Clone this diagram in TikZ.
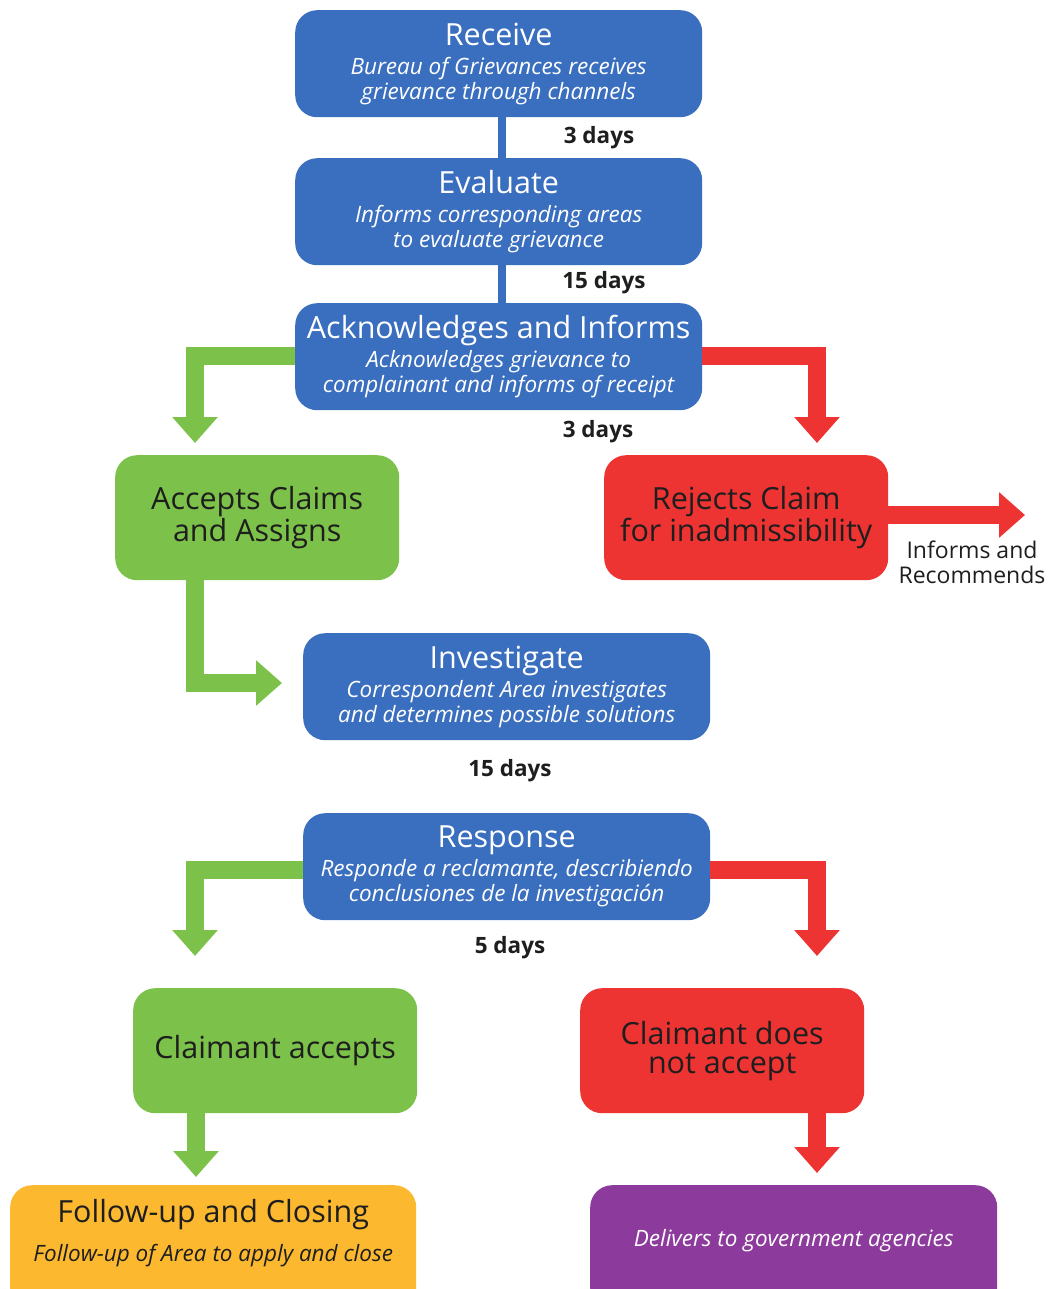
\documentclass[tikz,border=0pt]{standalone}
\usepackage{fontspec}
\setmainfont{Open Sans}
\usetikzlibrary{arrows.meta,calc}
\definecolor{bblue}{HTML}{3A6EBF}
\definecolor{bgreen}{HTML}{7CC24A}
\definecolor{bred}{HTML}{EE3333}
\definecolor{borange}{HTML}{FCB930}
\definecolor{bpurple}{HTML}{8C3A9B}
\definecolor{darktxt}{HTML}{1E1E1E}
\newcommand{\ttlA}{\fontsize{30.5}{25}\selectfont\upshape}
\newcommand{\subA}{\fontsize{22.5}{25}\selectfont\itshape}
\newcommand{\bigB}{\fontsize{30.5}{29}\selectfont}
\tikzset{
  box/.style={rounded corners=22pt, inner sep=0pt, align=center, anchor=north west},
  bluebox/.style={box, fill=bblue, text=white, minimum width=407pt, minimum height=107pt, font=\subA},
  greenbox/.style={box, fill=bgreen, text=darktxt, minimum width=284pt, minimum height=125pt, font=\bigB},
  redbox/.style={box, fill=bred, text=darktxt, minimum width=284pt, minimum height=125pt, font=\bigB},
  days/.style={font=\fontsize{22.5}{24}\selectfont\bfseries, text=darktxt},
  garrow/.style={draw=bgreen, line width=18pt, -{Triangle[width=44pt,length=26pt]}},
  rarrow/.style={draw=bred, line width=18pt, -{Triangle[width=44pt,length=26pt]}},
  bline/.style={draw=bblue, line width=8pt},
}
\begin{document}
\begin{tikzpicture}[x=1pt,y=-1pt]
\useasboundingbox (0,0) rectangle (1055,1289);
% blue boxes
\node[bluebox] (rec) at (295,10) {\ttlA Receive\\[4pt]\subA Bureau of Grievances receives\\\subA grievance through channels};
\node[bluebox] (eva) at (295,158) {\ttlA Evaluate\\[4pt]\subA Informs corresponding areas\\\subA to evaluate grievance};
\node[bluebox] (ack) at (295,303) {\ttlA Acknowledges and Informs\\[4pt]\subA Acknowledges grievance to\\\subA complainant and informs of receipt};
\node[bluebox] (inv) at (303,633) {\ttlA Investigate\\[4pt]\subA Correspondent Area investigates\\\subA and determines possible solutions};
\node[bluebox] (res) at (303,813) {\ttlA Response\\[4pt]\subA Responde a reclamante, describiendo\\\subA conclusiones de la investigación};
% green/red boxes
\node[greenbox] (acc) at (115,455) {Accepts Claims\\and Assigns};
\node[redbox] (rej) at (604,455) {Rejects Claim\\for inadmissibility};
\node[greenbox] (cla) at (133,988) {Claimant accepts};
\node[redbox] (cln) at (580,988) {Claimant does\\not accept};
% final boxes
\node[box, fill=borange, text=darktxt, minimum width=406pt, minimum height=125pt, font=\subA] (fol) at (10,1185) {\ttlA Follow-up and Closing\\[14pt]\subA Follow-up of Area to apply and close\\[9pt]};
\node[box, fill=bpurple, text=white, minimum width=407pt, minimum height=125pt, font=\subA] (del) at (590,1185) {\subA Delivers to government agencies\\[-5pt]};
% blue connectors
\draw[bline] (rec.south -| 502,0) -- (eva.north -| 502,0);
\draw[bline] (eva.south -| 502,0) -- (ack.north -| 502,0);
% days labels
\node[days] (d1) at (599,138) {3 days};
\node[days] (d2) at (604,283) {15 days};
\node[days] (d3) at (598,432) {3 days};
\node[days] (d4) at (510,771) {15 days};
\node[days] (d5) at (510,948) {5 days};
% coordinates for arrow ends
\coordinate (g1) at (195,443);
\coordinate (r1) at (817,443);
\coordinate (g2) at (282,683);
\coordinate (r2) at (1025,515);
\coordinate (g3) at (195,956);
\coordinate (r3) at (817,956);
\coordinate (g4) at (196,1177);
\coordinate (r4) at (817,1173);
% arrows
\draw[garrow] (ack.west |- 0,356) -| (g1);
\draw[rarrow] (ack.east |- 0,356) -| (r1);
\draw[rarrow] (rej.east |- 0,515) -- (r2);
\draw[garrow] (acc.south -| 195,0) |- (g2);
\draw[garrow] (res.west |- 0,870) -| (g3);
\draw[rarrow] (res.east |- 0,870) -| (r3);
\draw[garrow] (cla.south -| 196,0) -- (g4);
\draw[rarrow] (cln.south -| 817,0) -- (r4);
\node[align=center, text=darktxt, font=\fontsize{23}{25}\selectfont] (inf) at (972,562) {Informs and\\Recommends};
\end{tikzpicture}
\end{document}
